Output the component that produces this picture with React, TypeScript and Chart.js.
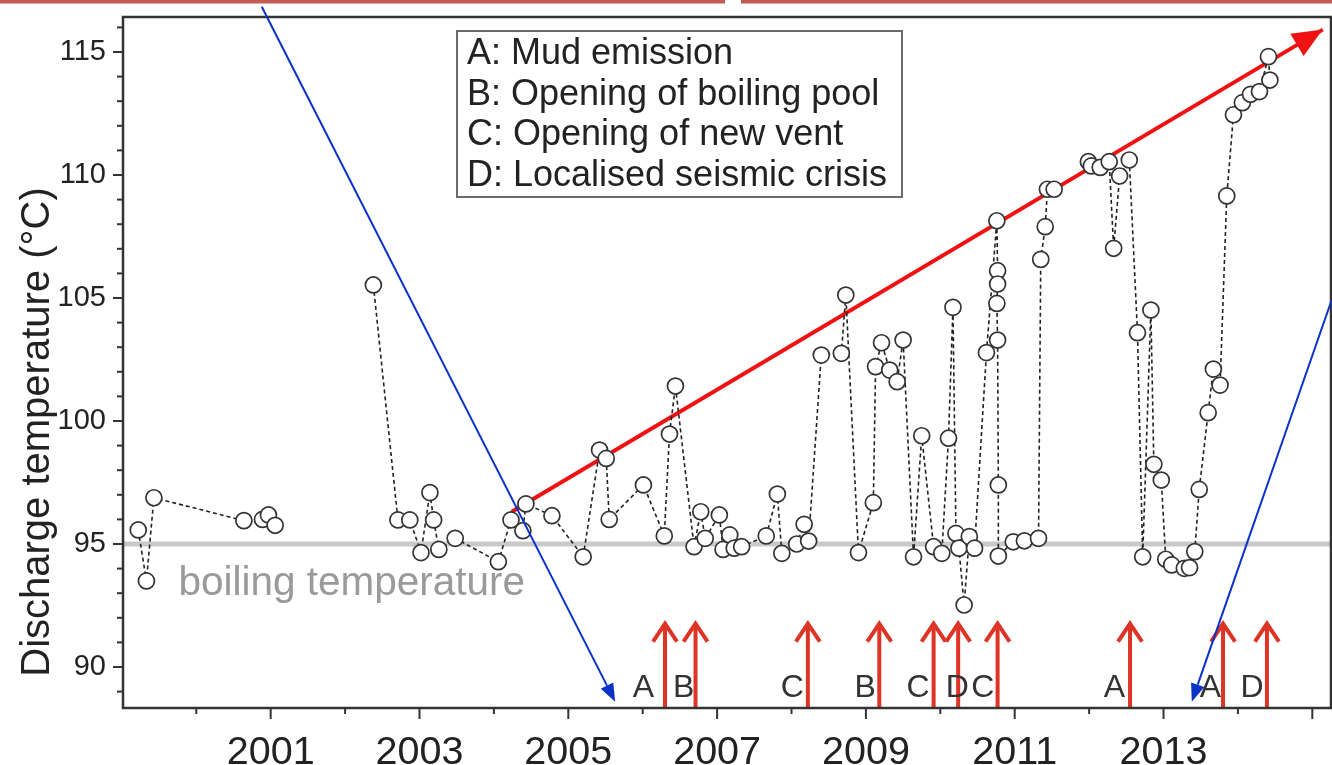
import React, { useEffect, useRef } from 'react';
import { Chart, registerables } from 'chart.js';

Chart.register(...registerables);

// ---------- data ----------
const sampleYears: number[] = [
  1999.22, 1999.33, 1999.43, 2000.64, 2000.89, 2000.97, 2001.06,
  2001.7,
  2002.38, 2002.71, 2002.87, 2003.02, 2003.14, 2003.19, 2003.26, 2003.48, 2004.06, 2004.23,
  2004.39, 2004.43, 2004.78, 2005.20, 2005.42, 2005.51, 2005.55, 2006.01, 2006.29, 2006.36,
  2006.44, 2006.69, 2006.78, 2006.84, 2007.03, 2007.08, 2007.17, 2007.23, 2007.33, 2007.66,
  2007.81, 2007.87, 2008.07, 2008.17, 2008.23, 2008.40, 2008.67, 2008.73, 2008.90, 2009.10,
  2009.13, 2009.21, 2009.32, 2009.42, 2009.50, 2009.64, 2009.75, 2009.91, 2010.02, 2010.11,
  2010.17, 2010.21, 2010.25, 2010.32, 2010.39, 2010.46, 2010.62, 2010.76, 2010.77, 2010.77,
  2010.76, 2010.77, 2010.78, 2010.78, 2010.98, 2011.13, 2011.32, 2011.35, 2011.41, 2011.44,
  2011.53,
  2011.75,
  2011.99, 2012.03, 2012.15, 2012.27, 2012.33, 2012.41, 2012.54, 2012.65, 2012.72, 2012.83,
  2012.87, 2012.97, 2013.03, 2013.11, 2013.28, 2013.35, 2013.42, 2013.48, 2013.60, 2013.67,
  2013.76, 2013.85, 2013.94, 2014.06, 2014.17, 2014.29, 2014.41, 2014.43,
];

const dischargeTemps: (number | null)[] = [
  95.57, 93.50, 96.88, 95.95, 96.00, 96.18, 95.76,
  null,
  105.53, 95.98, 95.98, 94.65, 97.09, 95.98, 94.78, 95.23, 94.28, 95.98,
  95.54, 96.63, 96.15, 94.48, 98.82, 98.48, 96.00, 97.40, 95.33, 99.47,
  101.42, 94.89, 96.31, 95.23, 96.18, 94.78, 95.37, 94.83, 94.89, 95.33,
  97.03, 94.62, 95.00, 95.80, 95.12, 102.68, 102.75, 105.12, 94.65, 96.68,
  102.21, 103.18, 102.07, 101.60, 103.29, 94.48, 99.40, 94.89, 94.62, 99.30,
  104.62, 95.43, 94.83, 92.52, 95.30, 94.83, 102.78, 108.14, 106.11, 105.57,
  104.78, 103.29, 97.40, 94.51, 95.09, 95.13, 95.23, 106.57, 107.90, 109.42,
  109.42,
  null,
  110.54, 110.37, 110.31, 110.54, 107.02, 109.96, 110.61, 103.59, 94.48, 104.51,
  98.24, 97.60, 94.38, 94.15, 94.01, 94.04, 94.69, 97.22, 100.34, 102.11,
  101.46, 109.15, 112.45, 112.94, 113.28, 113.39, 114.81, 113.86,
];

const boilingTemp = 95;
const boilingLabel = 'boiling temperature';
const boilingLabelYear = 1999.76;

const trendYears = [2004.24, 2015.14];
const trendTemps = [96.31, 115.91];

const eventYears = [2006.30, 2006.71, 2008.22, 2009.18, 2009.91, 2010.24, 2010.77, 2012.55, 2013.80, 2014.39];
const eventCodes = ['A', 'B', 'C', 'B', 'C', 'D', 'C', 'A', 'A', 'D'];
const eventLabelYears = [2006.01, 2006.55, 2008.01, 2008.99, 2009.70, 2010.23, 2010.57, 2012.34, 2013.63, 2014.19];
const eventArrowTopTemp = 91.8;

const legendLines = [
  'A: Mud emission',
  'B: Opening of boiling pool',
  'C: Opening of new vent',
  'D: Localised seismic crisis',
];

const xLabelYears = [2001, 2003, 2005, 2007, 2009, 2011, 2013];
const xMajorTickYears = [2001, 2003, 2005, 2007, 2009, 2011, 2013, 2015];
const xMinorTickYears = [2000, 2002, 2004, 2006, 2008, 2010, 2012, 2014];
const yLabelValues = [90, 95, 100, 105, 110, 115];
const yMinorValues = [89, 91, 92, 93, 94, 96, 97, 98, 99, 101, 102, 103, 104, 106, 107, 108, 109, 111, 112, 113, 114, 116];

const pointerStartYears = [2000.88, 2015.26];
const pointerStartTemps = [116.84, 104.92];
const pointerEndYears = [2005.63, 2013.38];
const pointerEndTemps = [88.59, 88.59];

const X_MIN = 1999.015;
const X_MAX = 2015.251;
const Y_MIN = 88.333;
const Y_MAX = 116.423;

const yTitle = 'Discharge temperature (°C)';
const FONT = '"Liberation Sans", Arial, Helvetica, sans-serif';

const zeroPad = (s: any) => {
  s.paddingLeft = 0;
  s.paddingRight = 0;
  s.paddingTop = 0;
  s.paddingBottom = 0;
};

const decorPlugin = {
  id: 'decor',
  beforeDatasetsDraw(chart: any) {
    const { ctx, scales } = chart;
    const x = scales.x, y = scales.y;
    ctx.save();
    ctx.fillStyle = '#9a9a9a';
    ctx.font = `40.5px ${FONT}`;
    ctx.textAlign = 'left';
    ctx.textBaseline = 'alphabetic';
    ctx.fillText(boilingLabel, x.getPixelForValue(boilingLabelYear), y.getPixelForValue(boilingTemp) + 51);
    ctx.restore();
  },
  afterDatasetsDraw(chart: any) {
    const { ctx, scales, chartArea } = chart;
    const x = scales.x, y = scales.y;
    const { left, right, top, bottom } = chartArea;
    ctx.save();

    // event arrows
    ctx.strokeStyle = 'rgb(222, 52, 38)';
    ctx.lineWidth = 4;
    ctx.lineCap = 'butt';
    const tipY = y.getPixelForValue(eventArrowTopTemp);
    eventYears.forEach((yr) => {
      const px = x.getPixelForValue(yr);
      ctx.beginPath();
      ctx.moveTo(px, bottom);
      ctx.lineTo(px, tipY + 1);
      ctx.stroke();
      ctx.beginPath();
      ctx.moveTo(px - 12, tipY + 19);
      ctx.lineTo(px, tipY + 1);
      ctx.lineTo(px + 12, tipY + 19);
      ctx.stroke();
    });
    // event labels
    ctx.fillStyle = '#333';
    ctx.font = `32px ${FONT}`;
    ctx.textAlign = 'center';
    ctx.textBaseline = 'alphabetic';
    eventCodes.forEach((c, i) => {
      ctx.fillText(c, x.getPixelForValue(eventLabelYears[i]), bottom - 11);
    });

    // trend arrow head
    const meta = chart.getDatasetMeta(1);
    if (meta && meta.data.length > 1) {
      const p0 = meta.data[0], p1 = meta.data[1];
      const ang = Math.atan2(p1.y - p0.y, p1.x - p0.x);
      const L = 30, W = 13;
      ctx.fillStyle = 'rgb(240, 18, 18)';
      ctx.beginPath();
      ctx.moveTo(p1.x, p1.y);
      ctx.lineTo(p1.x - L * Math.cos(ang) + W * Math.sin(ang), p1.y - L * Math.sin(ang) - W * Math.cos(ang));
      ctx.lineTo(p1.x - L * Math.cos(ang) - W * Math.sin(ang), p1.y - L * Math.sin(ang) + W * Math.cos(ang));
      ctx.closePath();
      ctx.fill();
    }

    // legend box
    ctx.fillStyle = '#fff';
    ctx.fillRect(457, 31, 445, 166);
    ctx.strokeStyle = '#6a6a6a';
    ctx.lineWidth = 2;
    ctx.strokeRect(457, 31, 445, 166);
    ctx.fillStyle = '#222';
    ctx.font = `36px ${FONT}`;
    ctx.textAlign = 'left';
    legendLines.forEach((t, i) => {
      ctx.fillText(t, 467, 64 + i * 40.7);
    });

    // frame
    ctx.strokeStyle = '#333';
    ctx.lineWidth = 2.5;
    ctx.strokeRect(left, top, right - left, bottom - top);

    // ticks
    ctx.lineWidth = 2;
    yLabelValues.forEach((v) => {
      const py = y.getPixelForValue(v);
      ctx.beginPath(); ctx.moveTo(left - 10, py); ctx.lineTo(left, py); ctx.stroke();
    });
    yMinorValues.forEach((v) => {
      const py = y.getPixelForValue(v);
      if (py < top || py > bottom) return;
      ctx.beginPath(); ctx.moveTo(left - 6, py); ctx.lineTo(left, py); ctx.stroke();
    });
    xMajorTickYears.forEach((v) => {
      const px = x.getPixelForValue(v);
      if (px < left || px > right) return;
      ctx.beginPath(); ctx.moveTo(px, bottom); ctx.lineTo(px, bottom + 11); ctx.stroke();
    });
    xMinorTickYears.forEach((v) => {
      const px = x.getPixelForValue(v);
      if (px < left || px > right) return;
      ctx.beginPath(); ctx.moveTo(px, bottom); ctx.lineTo(px, bottom + 6); ctx.stroke();
    });

    // y title
    ctx.save();
    ctx.translate(38, 432);
    ctx.rotate(-Math.PI / 2);
    ctx.fillStyle = '#222';
    ctx.font = `40px ${FONT}`;
    ctx.textAlign = 'center';
    ctx.textBaseline = 'middle';
    ctx.fillText(yTitle, 0, 0);
    ctx.restore();

    ctx.restore();
  },
  afterDraw(chart: any) {
    const { ctx, scales } = chart;
    const x = scales.x, y = scales.y;
    ctx.save();
    // top decoration strip
    ctx.fillStyle = '#c45a55';
    ctx.fillRect(0, 0, 725, 3.5);
    ctx.fillRect(741, 0, 591, 3.5);
    // blue pointer arrows
    ctx.strokeStyle = 'rgb(10, 50, 200)';
    ctx.fillStyle = 'rgb(10, 50, 200)';
    ctx.lineWidth = 2;
    pointerStartYears.forEach((sy, i) => {
      const x0 = x.getPixelForValue(sy), y0 = y.getPixelForValue(pointerStartTemps[i]);
      const x1 = x.getPixelForValue(pointerEndYears[i]), y1 = y.getPixelForValue(pointerEndTemps[i]);
      const ang = Math.atan2(y1 - y0, x1 - x0);
      const L = 18, W = 7;
      const bx = x1 - L * Math.cos(ang), by = y1 - L * Math.sin(ang);
      ctx.beginPath(); ctx.moveTo(x0, y0); ctx.lineTo(bx, by); ctx.stroke();
      ctx.beginPath();
      ctx.moveTo(x1, y1);
      ctx.lineTo(bx + W * Math.sin(ang), by - W * Math.cos(ang));
      ctx.lineTo(bx - W * Math.sin(ang), by + W * Math.cos(ang));
      ctx.closePath();
      ctx.fill();
    });
    ctx.restore();
  },
};

export default function App() {
  const ref = useRef<HTMLCanvasElement>(null);
  useEffect(() => {
    if (!ref.current) return;
    const chart = new Chart(ref.current, {
      type: 'scatter',
      data: {
        datasets: [
          {
            label: 'Discharge temperature',
            data: sampleYears.map((yr, i) => ({ x: yr, y: dischargeTemps[i] as any })),
            showLine: true,
            spanGaps: false,
            borderColor: '#222',
            borderWidth: 1.6,
            borderDash: [4, 3],
            pointRadius: 8,
            pointBorderWidth: 1.7,
            pointBorderColor: '#333',
            pointBackgroundColor: '#ffffff',
            order: 1,
          } as any,
          {
            label: 'Trend',
            data: trendYears.map((yr, i) => ({ x: yr, y: trendTemps[i] })),
            showLine: true,
            borderColor: 'rgb(240, 18, 18)',
            borderWidth: 4,
            pointRadius: 0,
            order: 2,
          } as any,
          {
            label: 'Boiling',
            data: [{ x: X_MIN, y: boilingTemp }, { x: X_MAX, y: boilingTemp }],
            showLine: true,
            borderColor: '#c9c9c9',
            borderWidth: 5,
            pointRadius: 0,
            order: 3,
          } as any,
        ],
      },
      options: {
        responsive: false,
        animation: false,
        devicePixelRatio: 1,
        layout: { autoPadding: false, padding: { top: 17, right: 1, left: 0, bottom: 0 } },
        plugins: { legend: { display: false }, tooltip: { enabled: false } },
        scales: {
          x: {
            type: 'linear',
            min: X_MIN,
            max: X_MAX,
            grid: { display: false, drawTicks: false },
            border: { display: false },
            afterBuildTicks: (s: any) => { s.ticks = xLabelYears.map((v) => ({ value: v })); },
            afterFit: (s: any) => { s.height = 57; zeroPad(s); },
            ticks: {
              callback: (v: any) => String(v),
              font: { size: 39.5, family: FONT },
              color: '#222',
              padding: 21,
              maxRotation: 0,
              autoSkip: false,
            },
          },
          y: {
            type: 'linear',
            min: Y_MIN,
            max: Y_MAX,
            grid: { display: false, drawTicks: false },
            border: { display: false },
            afterBuildTicks: (s: any) => { s.ticks = yLabelValues.map((v) => ({ value: v })); },
            afterFit: (s: any) => { s.width = 123; zeroPad(s); },
            ticks: {
              callback: (v: any) => String(v),
              font: { size: 29, family: FONT },
              color: '#222',
              padding: 17,
              autoSkip: false,
            },
          },
        },
      } as any,
      plugins: [decorPlugin],
    });
    return () => chart.destroy();
  }, []);
  return (
    <div style={{ position: 'absolute', left: 0, top: 0, width: 1332, height: 765, background: '#fff' }}>
      <canvas ref={ref} width={1332} height={765} style={{ display: 'block', width: 1332, height: 765 }} />
    </div>
  );
}
